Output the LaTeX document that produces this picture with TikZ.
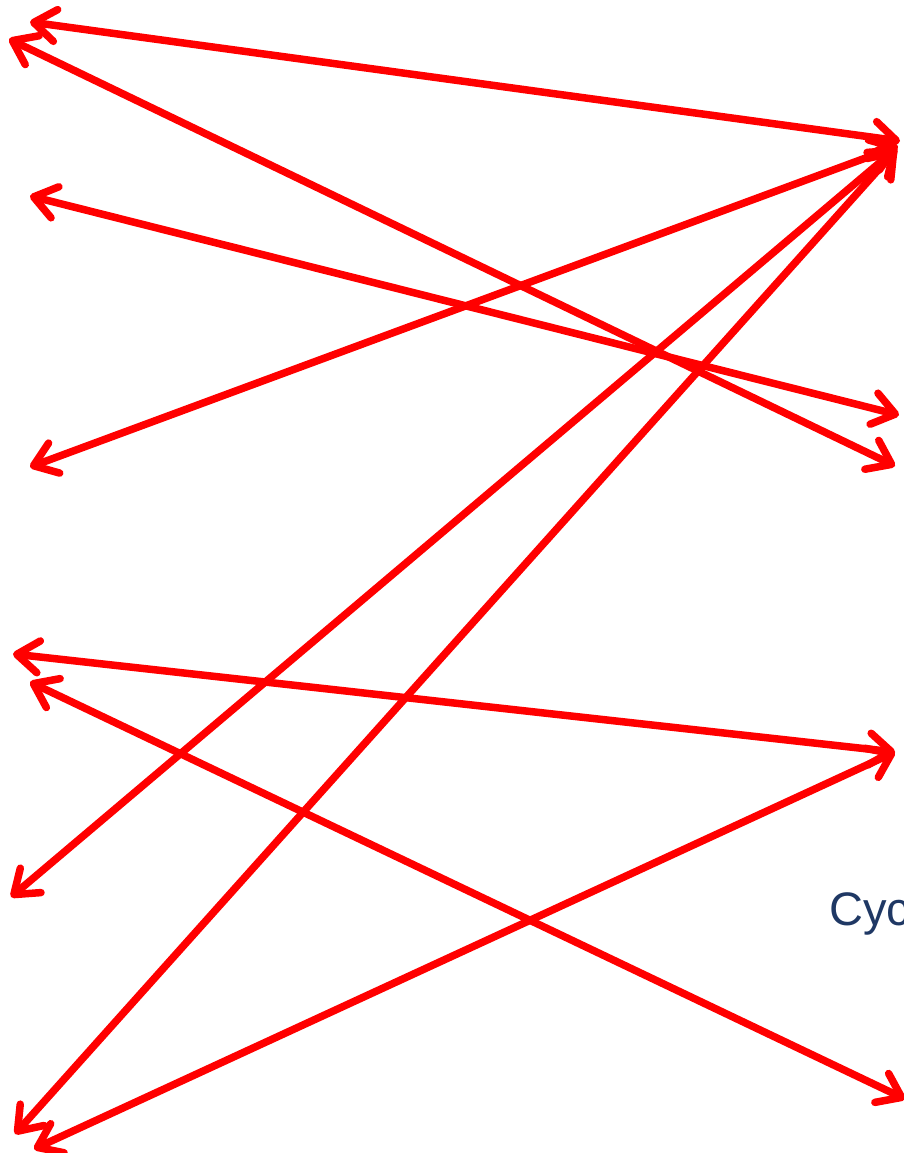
\documentclass[tikz,border=0pt]{standalone}
\usepackage{fontspec}
\setmainfont{Liberation Sans}
\usetikzlibrary{arrows.meta}
\definecolor{arrred}{RGB}{255,0,0}
\definecolor{txtblue}{RGB}{31,56,100}
\begin{document}
\begin{tikzpicture}[x=1pt,y=-1pt,
  dbl/.style={draw=arrred, line width=7.5pt,
    {Straight Barb[length=22pt,width=32pt,round]}-{Straight Barb[length=22pt,width=32pt,round]}},
  lbl/.style={font=\fontsize{47}{50}\selectfont, text=txtblue, inner sep=0pt, anchor=base west}]
\useasboundingbox (0,0) rectangle (903,1153);
% left ends
\coordinate (L1) at (30,22);
\coordinate (L2) at (9,39);
\coordinate (L3) at (30,196);
\coordinate (L4) at (30,467);
\coordinate (L5) at (11,897);
\coordinate (L6) at (15,1134);
\coordinate (L7) at (13,654);
\coordinate (L8) at (30,682);
\coordinate (L9) at (34,1149);
% right ends
\coordinate (R1) at (900,141);
\coordinate (R2) at (895,466);
\coordinate (R3) at (899,415);
\coordinate (R4) at (898,146);
\coordinate (R5) at (897,148);
\coordinate (R6) at (896,150);
\coordinate (R7) at (895,752);
\coordinate (R8) at (905,1099);
\coordinate (R9) at (895,752);
\draw[dbl] (L1) -- (R1);
\draw[dbl] (L2) -- (R2);
\draw[dbl] (L3) -- (R3);
\draw[dbl] (L4) -- (R4);
\draw[dbl] (L5) -- (R5);
\draw[dbl] (L6) -- (R6);
\draw[dbl] (L7) -- (R7);
\draw[dbl] (L8) -- (R8);
\draw[dbl] (L9) -- (R9);
\node[lbl] (cyc) at (829,925) {Cyc};
\end{tikzpicture}
\end{document}
